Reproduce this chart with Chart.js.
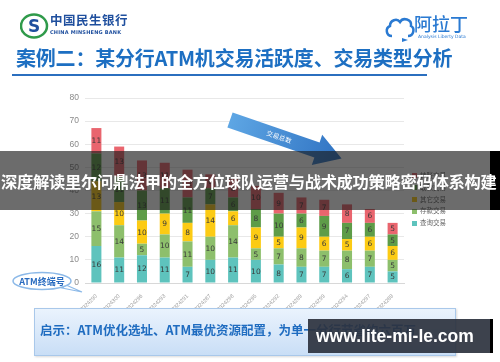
<!DOCTYPE html>
<html><head><meta charset="utf-8">
<script src="https://cdn.jsdelivr.net/npm/chart.js@4/dist/chart.umd.min.js"></script>
<style>
html,body{margin:0;padding:0;background:#fff;}
#wrap{position:relative;width:500px;height:362px;overflow:hidden;background:#fff;font-family:"Noto Sans CJK SC","Noto Sans",sans-serif;}
#c{position:absolute;left:0;top:0;}
.abs{position:absolute;white-space:nowrap;}
#title{left:16px;top:45px;font-size:20px;font-weight:700;color:#1d6fc2;letter-spacing:-0.2px;line-height:26px;}
#uline{left:12px;top:74px;width:415px;height:2px;background:#2b6fbf;}
#bank1{left:50px;top:12px;font-size:12.5px;font-weight:700;color:#1f4f9e;line-height:16px;letter-spacing:0.5px;}
#bank2{left:50px;top:29px;font-size:5px;font-weight:700;color:#1f4f9e;line-height:6px;font-family:"DejaVu Sans",sans-serif;letter-spacing:0.2px;}
#ald{left:414px;top:12px;font-size:18px;font-weight:500;color:#2a7ad2;line-height:22px;}
#ald2{left:418px;top:34px;font-size:4.5px;color:#2a7ad2;line-height:6px;font-family:"DejaVu Sans",sans-serif;}
#legend{left:412px;top:170px;font-size:6.5px;color:#666;line-height:11.8px;}
#legend div{display:flex;align-items:center;}
#legend span.sw{display:inline-block;width:5px;height:5px;margin-right:3px;}
#banner{left:0;top:151px;width:500px;height:59px;background:rgba(25,25,25,0.64);}
#bannerEdge{left:490px;top:151px;width:10px;height:59px;background:#000;}
#btext{left:1px;top:170px;font-size:16.3px;font-weight:700;color:#fff;line-height:22px;letter-spacing:-0.3px;}
#box{left:34px;top:308px;width:420px;height:46px;border:1px solid #a9c8ea;background:linear-gradient(#eaf3fd,#c9def6);box-shadow:1px 1px 2px rgba(0,0,0,0.15);}
#boxtext{left:40px;top:321px;font-size:12.5px;font-weight:700;color:#1f6cc0;line-height:18px;}
#wm{left:308px;top:319px;width:182px;height:34px;background:rgba(45,50,62,0.92);}
#wmEdge{left:490px;top:319px;width:3px;height:34px;background:#000;}
#wmtext{left:316px;top:324px;font-size:17.5px;font-weight:700;color:#fff;line-height:24px;font-family:"Liberation Sans",Arial,sans-serif;}
</style>
</head><body>
<div id="wrap">
<canvas id="c" width="500" height="362"></canvas>

<!-- header -->
<svg class="abs" style="left:20px;top:13px" width="30" height="26" viewBox="0 0 30 26">
  <ellipse cx="14" cy="13" rx="13" ry="11.5" fill="none" stroke="#2f9a4a" stroke-width="2.5"/>
  <text x="14" y="19" text-anchor="middle" font-size="17" font-weight="700" fill="#1f4f9e" font-family="DejaVu Sans">S</text>
</svg>
<div class="abs" id="bank1">中国民生银行</div>
<div class="abs" id="bank2">CHINA MINSHENG BANK</div>
<svg class="abs" style="left:384px;top:16px" width="32" height="28" viewBox="0 0 32 28">
  <path d="M8 20 C2 20 1 12 6 10 C6 4 13 2 16 6 C19 1 28 3 27 10 C31 12 30 20 24 20" fill="none" stroke="#2a7ad2" stroke-width="2.5"/>
  <path d="M18 22 L24 24 L18 26 Z" fill="#2a7ad2"/>
</svg>
<div class="abs" id="ald">阿拉丁</div>
<div class="abs" id="ald2">Analysis Liberty Data</div>
<div class="abs" id="title">案例二：某分行ATM机交易活跃度、交易类型分析</div>
<div class="abs" id="uline"></div>

<!-- arrow decoration -->
<svg class="abs" style="left:0;top:0" width="500" height="362">
  <defs><linearGradient id="ag" x1="0" y1="0" x2="1" y2="0">
    <stop offset="0" stop-color="#5ea6e4"/><stop offset="1" stop-color="#2f72c2"/></linearGradient></defs>
  <g transform="translate(230,120) rotate(19)">
    <polygon points="0,-8 92,-8 92,-16 118,0 92,16 92,8 0,8" fill="url(#ag)"/>
    <text x="52" y="2.5" text-anchor="middle" font-size="6.5" fill="#fff">交易总数</text>
  </g>
  <!-- ATM callout -->
  <path d="M66 285 L82 292 L62 288 Z" fill="#fff" stroke="#8cb9e8" stroke-width="1.2"/>
  <ellipse cx="42" cy="281" rx="29" ry="8.5" fill="#fff" stroke="#8cb9e8" stroke-width="1.5"/>
  <text x="42" y="284.5" text-anchor="middle" font-size="9" font-weight="700" fill="#2a6cc0" font-family="Noto Sans CJK SC">ATM终端号</text>
</svg>

<div class="abs" id="legend"></div>

<!-- overlays -->
<div class="abs" id="banner"></div>
<div class="abs" id="bannerEdge"></div>
<div class="abs" id="btext">深度解读里尔问鼎法甲的全方位球队运营与战术成功策略密码体系构建</div>

<div class="abs" id="box"></div>
<div class="abs" id="boxtext">启示：ATM优化选址、ATM最优资源配置，为单一分行节省约六百万</div>
<div class="abs" id="wm"></div>
<div class="abs" id="wmEdge"></div>
<div class="abs" id="wmtext">www.lite-mi-le.com</div>
</div>

<script>
// ---- data ----
const categories = ['130324290','130324300','130324296','130324293','130324291','130324287','130324298',
                    '130324295','130324292','130324289','130324299','130324294','130324297','130324288'];
const seriesNames = ['查询交易','存款交易','其它交易','取款交易','转账交易'];
const queryTx    = [16,11,12,11, 7,10,11,10, 8, 7, 7, 6, 7, 5];
const depositTx  = [15,14, 5,10,11,10,14, 5, 7, 8, 7, 8, 7, 5];
const otherTx    = [13,10,10, 9, 8,14, 6, 9, 5, 9, 6, 5, 6, 6];
const withdrawTx = [12,11,13,11,11, 7, 6, 8,10, 6, 9, 7, 6, 5];
const transferTx = [11,13,13,11,12, 6, 8,10, 9, 7, 7, 8, 6, 5];
const yTicks = [0,10,20,30,40,50,60,70,80];

const colors = ['#5ec3bd','#8dbf6c','#fccb14','#5e9c48','#e9656e'];
const allSeries = [queryTx, depositTx, otherTx, withdrawTx, transferTx];

const datasets = allSeries.map((d,i)=>({
  label: seriesNames[i], data: d, backgroundColor: colors[i], borderWidth: 0,
  barPercentage: 0.44, categoryPercentage: 1
}));

// legend (top of stack first)
const lg = document.getElementById('legend');
for (let i = seriesNames.length-1; i >= 0; i--) {
  const row = document.createElement('div');
  row.innerHTML = '<span class="sw" style="background:'+colors[i]+'"></span>' + seriesNames[i];
  lg.appendChild(row);
}

const valueLabels = {
  id: 'valueLabels',
  afterDatasetsDraw(chart) {
    const ctx = chart.ctx;
    ctx.save();
    ctx.font = '7.5px "DejaVu Sans", sans-serif';
    ctx.fillStyle = '#3a3a3a';
    ctx.textAlign = 'center';
    ctx.textBaseline = 'middle';
    chart.data.datasets.forEach((ds, di) => {
      const meta = chart.getDatasetMeta(di);
      meta.data.forEach((el, i) => {
        const y = (el.y + el.base) / 2;
        ctx.fillText(String(ds.data[i]), el.x, y + 0.5);
      });
    });
    ctx.restore();
  }
};

new Chart(document.getElementById('c'), {
  type: 'bar',
  data: { labels: categories, datasets },
  options: {
    responsive: false, animation: false,
    layout: { padding: { left: 55, right: 96, top: 98, bottom: 39 } },
    plugins: { legend: { display: false }, tooltip: { enabled: false } },
    scales: {
      x: {
        stacked: true,
        grid: { display: false },
        border: { color: '#d8d8d8' },
        ticks: { minRotation: 45, maxRotation: 45, color: '#999', font: { size: 5.5 }, padding: 2 },
        afterFit(s) { s.height = 40; }
      },
      y: {
        stacked: true, min: 0, max: 80,
        afterBuildTicks(s) { s.ticks = yTicks.map(v => ({ value: v })); },
        grid: { color: '#e8e8e8', drawTicks: false },
        border: { display: false },
        ticks: { color: '#8a8a8a', font: { size: 8.5 }, padding: 6 },
        afterFit(s) { s.width = 30; }
      }
    }
  },
  plugins: [valueLabels]
});
</script>
</body></html>
